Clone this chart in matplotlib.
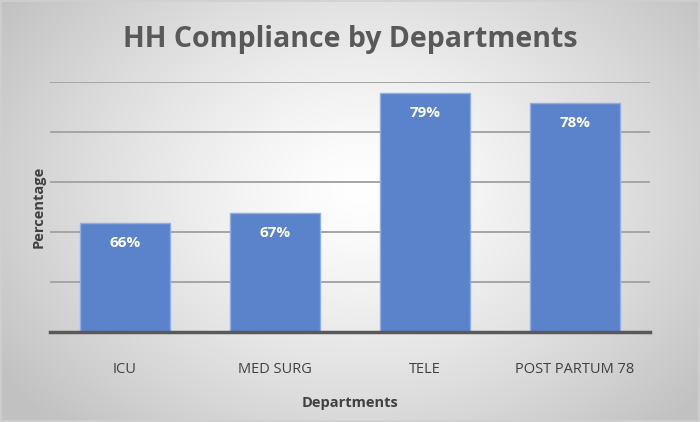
import numpy as np
import matplotlib
matplotlib.use("Agg")
import matplotlib.pyplot as plt

categories = ["ICU", "MED SURG", "TELE", "POST PARTUM 78"]
values = [0.659, 0.669, 0.789, 0.779]
labels = ["66%", "67%", "79%", "78%"]

plt.rcParams['font.family'] = ['Open Sans', 'DejaVu Sans']

W, H = 700, 422
fig = plt.figure(figsize=(W / 100, H / 100), dpi=100)

# radial gradient background
bg = fig.add_axes([0, 0, 1, 1], zorder=-10)
yy, xx = np.mgrid[0:H, 0:W]
cx, cy = 360, 190
r = np.sqrt(((xx - cx) / 430.0) ** 2 + ((yy - cy) / 330.0) ** 2)
r = np.clip(r, 0, 1)
light = 1.0
dark = 0.76
g = light - (light - dark) * r ** 1.3
img = np.dstack([g, g, g])
bg.imshow(img, aspect='auto', extent=[0, 1, 0, 1], origin='upper')
bg.set_xlim(0, 1)
bg.set_ylim(0, 1)
bg.axis('off')
bg.add_patch(plt.Rectangle((0.001, 0.002), 0.998, 0.996, fill=False,
                           edgecolor='#d0d0d0', linewidth=1.2, transform=bg.transAxes))

ax = fig.add_axes([50 / W, (H - 332) / H, 600 / W, 250 / H])
ax.patch.set_alpha(0)
x = np.arange(len(categories))
bars = ax.bar(x, values, width=0.6, bottom=0, color='#5A83CB',
              edgecolor='#8FAEE3', linewidth=1.0, zorder=3)
ax.set_ylim(0.55, 0.80)
ax.set_xlim(-0.5, len(categories) - 0.5)
ax.set_yticks(np.arange(0.55, 0.801, 0.05))
ax.yaxis.grid(True, color='#a5a5a5', linewidth=1.4, zorder=0)
ax.tick_params(axis='y', left=False, labelleft=False)
ax.tick_params(axis='x', bottom=False, labelsize=10.5, colors='#404040', pad=18)
ax.set_xticks(x)
ax.set_xticklabels(categories)
for s in ['top', 'right', 'left']:
    ax.spines[s].set_visible(False)
ax.spines['bottom'].set_color('#595959')
ax.spines['bottom'].set_linewidth(2.5)
ax.spines['bottom'].set_zorder(4)

for xi, v, lab in zip(x, values, labels):
    ax.annotate(lab, (xi, v), xytext=(0, -14.5), textcoords='offset points',
                ha='center', va='center', color='white', fontsize=11,
                fontweight='bold', zorder=5)

ax.set_xlabel('Departments', fontsize=10.5, fontweight='bold', color='#404040', labelpad=14)
ax.set_ylabel('Percentage', fontsize=10.5, fontweight='bold', color='#404040', labelpad=3)

fig.text(0.5, (H - 40) / H, 'HH Compliance by Departments', ha='center', va='center',
         fontsize=20.5, fontweight='bold', color='#595959')

fig.savefig('out.png', dpi=100)
